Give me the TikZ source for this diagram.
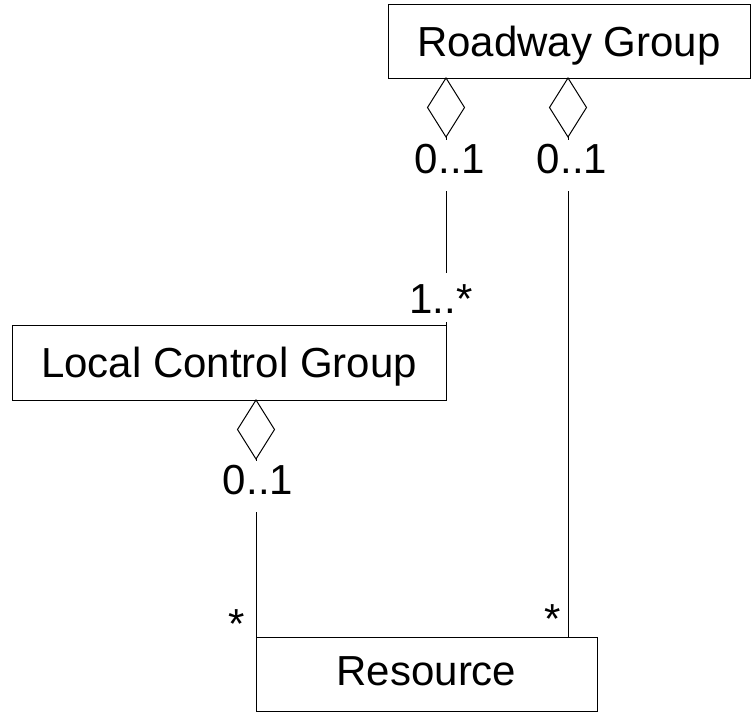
\documentclass[tikz,border=0pt]{standalone}
\usepackage{fontspec}
\setmainfont{Liberation Sans}
\usetikzlibrary{shapes.geometric}

\begin{document}
\begin{tikzpicture}[x=1pt, y=-1pt, line width=1pt,
every node/.style={font=\fontsize{42}{50}\selectfont},
cls/.style={draw, rectangle, inner sep=0pt, outer sep=0pt, text depth=0pt},
agg/.style={draw, diamond, inner sep=0pt, outer sep=0pt,
  minimum width=37pt, minimum height=59pt, anchor=north},
mult/.style={fill=white, anchor=base, inner xsep=2pt, inner ysep=0pt,
  text height=33pt, text depth=18pt},
star/.style={anchor=base, inner sep=1pt}]

\useasboundingbox (0,0) rectangle (751,712);

\node[cls, minimum width=362pt, minimum height=74pt] (rg) at (569,41) {Roadway Group};
\node[cls, minimum width=434pt, minimum height=75pt] (lcg) at (229,362.5) {Local Control Group};
\node[cls, minimum width=341pt, minimum height=74pt, text height=22pt] (res) at (426.5,674) {Resource};

\node[agg] (rgd1) at (lcg.east |- rg.south) {};
\node[agg] (rgd2) at (568,78) {};
\node[agg] (lcgd) at (res.west |- lcg.south) {};

\draw (rgd1.south) -- (lcg.north east);
\draw (rgd2.south) -- (rgd2.south |- res.north);
\draw (lcgd.south) -- (res.north west);

\node[mult] (m1) at (450,173) {0..1};
\node[mult] (m2) at (572,173) {0..1};
\node[mult, text height=40pt, text depth=9pt] (m3) at (441,313) {1..*};
\node[mult] (m4) at (258,494) {0..1};
\node[star] (m5) at (237,638) {*};
\node[star] (m6) at (553,633) {*};

\end{tikzpicture}
\end{document}
